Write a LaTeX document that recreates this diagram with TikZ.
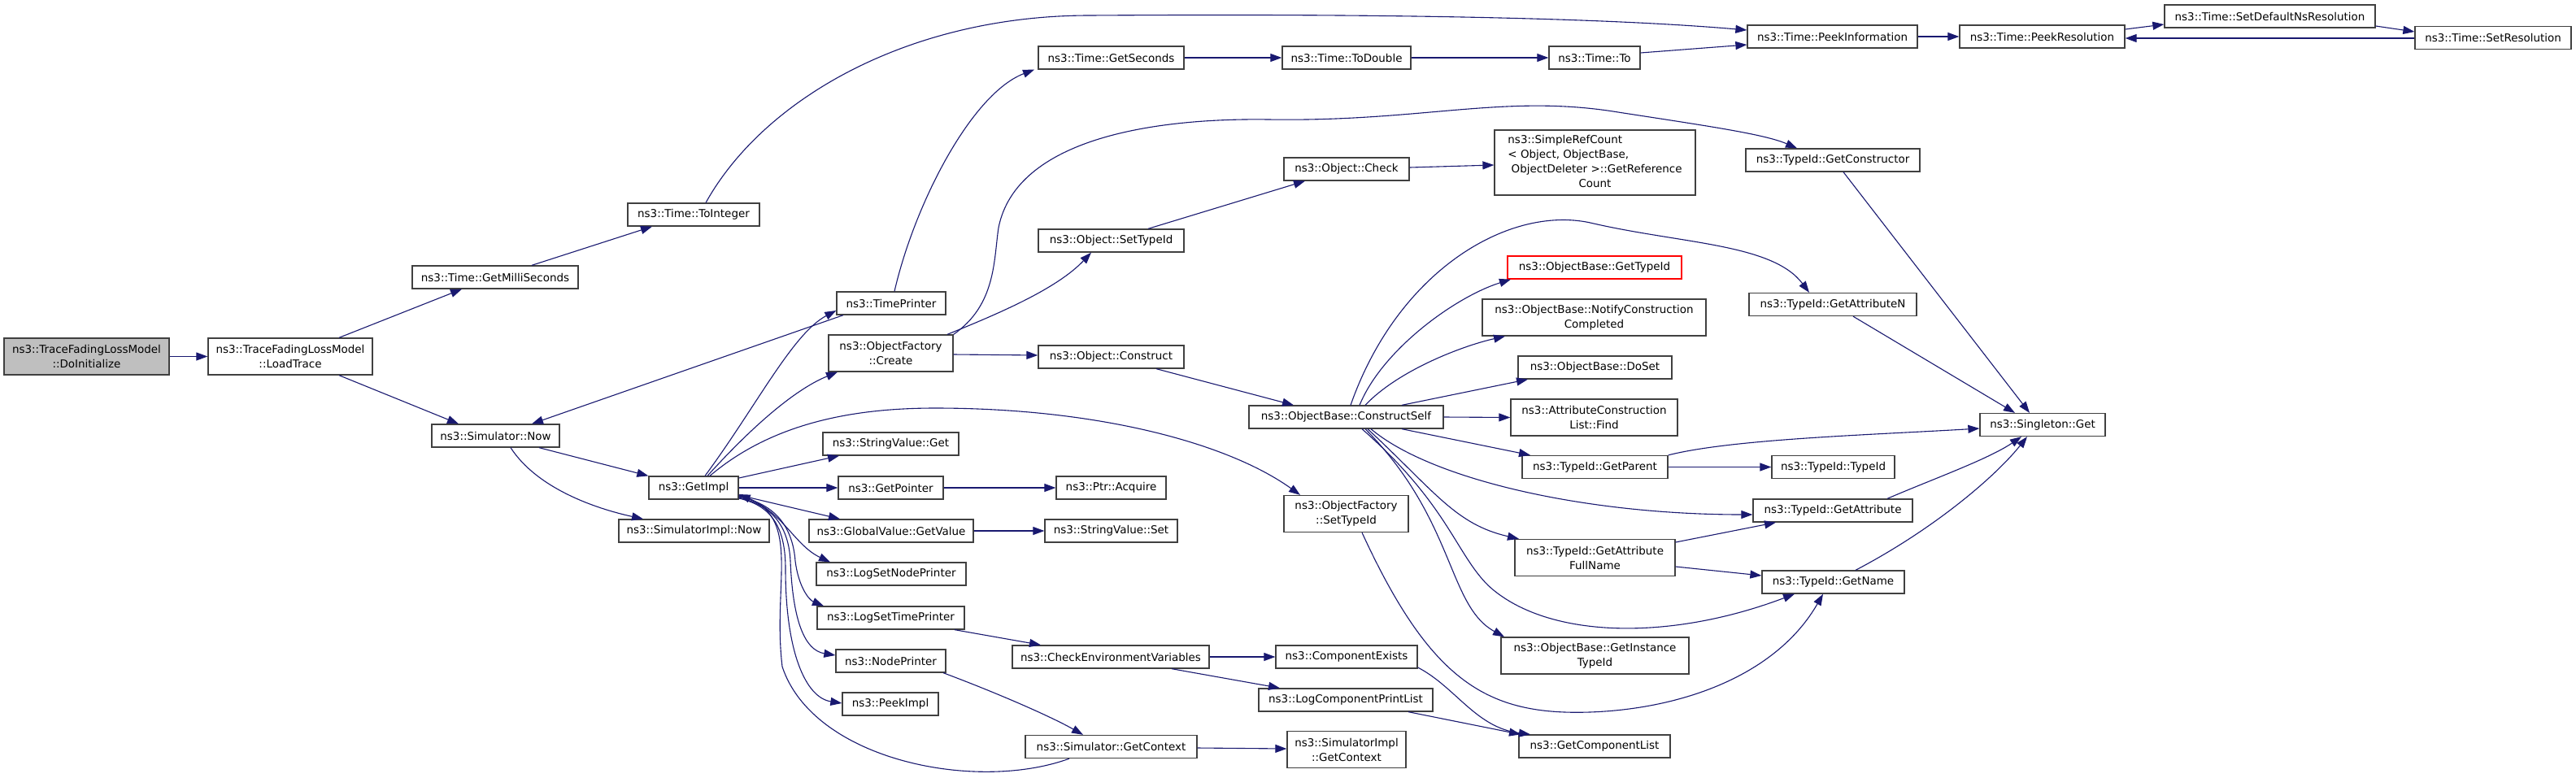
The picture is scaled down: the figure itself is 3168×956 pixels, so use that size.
\documentclass[tikz,border=0pt]{standalone}
\usepackage{fontspec}
\setmainfont{DejaVu Sans}
\usetikzlibrary{arrows.meta}
\definecolor{mblue}{RGB}{25,25,112}
\definecolor{boxline}{RGB}{64,64,64}
\definecolor{rootfill}{RGB}{191,191,191}
\begin{document}
\begin{tikzpicture}[x=1pt,y=-1pt,
  box/.style={draw=boxline, line width=1.3pt, inner sep=0pt, align=center, text=black,
    font=\fontsize{13.45}{18}\selectfont},
  cg/.style={draw=mblue, line width=1.1pt, -{Triangle[length=14pt,width=10pt]}, fill=none},
]
\path[use as bounding box, fill=white] (0,0) rectangle (3168,956);
% ---------- nodes ----------
\node[box, fill=rootfill, minimum width=203pt, minimum height=45pt] (doinit) at (106.5,438.5) {ns3::TraceFadingLossModel\\::DoInitialize};
\node[box, minimum width=202pt, minimum height=45pt] (load) at (357,438.5) {ns3::TraceFadingLossModel\\::LoadTrace};
\node[box, minimum width=204pt, minimum height=28pt] (milli) at (609,341) {ns3::Time::GetMilliSeconds};
\node[box, minimum width=162pt, minimum height=28pt] (toint) at (853,264) {ns3::Time::ToInteger};
\node[box, minimum width=157pt, minimum height=28pt] (simnow) at (609.5,536) {ns3::Simulator::Now};
\node[box, minimum width=110pt, minimum height=28pt] (getimpl) at (853,600) {ns3::GetImpl};
\node[box, minimum width=185pt, minimum height=28pt] (simimplnow) at (853.5,653) {ns3::SimulatorImpl::Now};
\node[box, minimum width=179pt, minimum height=28pt] (getsec) at (1366.5,71) {ns3::Time::GetSeconds};
\node[box, minimum width=158pt, minimum height=28pt] (todouble) at (1656,71) {ns3::Time::ToDouble};
\node[box, minimum width=112pt, minimum height=28pt] (timeto) at (1961,71) {ns3::Time::To};
\node[box, minimum width=209pt, minimum height=28pt] (peekinfo) at (2253.5,45) {ns3::Time::PeekInformation};
\node[box, minimum width=203pt, minimum height=28pt] (peekres) at (2511.5,45) {ns3::Time::PeekResolution};
\node[box, minimum width=259pt, minimum height=28pt] (setdef) at (2791.5,20) {ns3::Time::SetDefaultNsResolution};
\node[box, minimum width=192pt, minimum height=28pt] (setres) at (3066,46.5) {ns3::Time::SetResolution};
\node[box, minimum width=154pt, minimum height=28pt] (check) at (1656,208) {ns3::Object::Check};
\node[box, minimum width=247pt, minimum height=80pt] (simpleref) at (1961.5,200) {\begin{tabular}{@{}l@{}}ns3::SimpleRefCount\\< Object, ObjectBase,\\\ ObjectDeleter >::GetReference\\\multicolumn{1}{@{}c@{}}{Count}\end{tabular}};
\node[box, minimum width=214pt, minimum height=28pt] (getctor) at (2254,197) {ns3::TypeId::GetConstructor};
\node[box, minimum width=179pt, minimum height=28pt] (objsettid) at (1366.5,296) {ns3::Object::SetTypeId};
\node[box, minimum width=134pt, minimum height=28pt] (timeprinter) at (1096,373) {ns3::TimePrinter};
\node[box, minimum width=153pt, minimum height=45pt] (create) at (1095.5,434.5) {ns3::ObjectFactory\\::Create};
\node[box, minimum width=179pt, minimum height=28pt] (construct) at (1366.5,439) {ns3::Object::Construct};
\node[box, draw=red, minimum width=214pt, minimum height=28pt] (gettypeid) at (1961,329) {ns3::ObjectBase::GetTypeId};
\node[box, minimum width=275pt, minimum height=45pt] (notify) at (1960.5,390.5) {ns3::ObjectBase::NotifyConstruction\\Completed};
\node[box, minimum width=189pt, minimum height=28pt] (doset) at (1961.5,452) {ns3::ObjectBase::DoSet};
\node[box, minimum width=206pt, minimum height=28pt] (getattrn) at (2254,374.5) {ns3::TypeId::GetAttributeN};
\node[box, minimum width=239pt, minimum height=28pt] (cself) at (1655.5,513) {ns3::ObjectBase::ConstructSelf};
\node[box, minimum width=205pt, minimum height=45pt] (attrfind) at (1960.5,513.5) {ns3::AttributeConstruction\\List::Find};
\node[box, minimum width=154pt, minimum height=28pt] (singleton) at (2512,522.5) {ns3::Singleton::Get};
\node[box, minimum width=179pt, minimum height=28pt] (getparent) at (1961.5,574.5) {ns3::TypeId::GetParent};
\node[box, minimum width=151pt, minimum height=28pt] (tidtid) at (2254.5,574.5) {ns3::TypeId::TypeId};
\node[box, minimum width=196pt, minimum height=28pt] (getattr) at (2254,628) {ns3::TypeId::GetAttribute};
\node[box, minimum width=197pt, minimum height=45pt] (getattrfull) at (1961.5,686) {ns3::TypeId::GetAttribute\\FullName};
\node[box, minimum width=175pt, minimum height=28pt] (getname) at (2254.5,716) {ns3::TypeId::GetName};
\node[box, minimum width=153pt, minimum height=45pt] (ofsettid) at (1655.5,632) {ns3::ObjectFactory\\::SetTypeId};
\node[box, minimum width=231pt, minimum height=45pt] (getinst) at (1961.5,806.5) {ns3::ObjectBase::GetInstance\\TypeId};
\node[box, minimum width=186pt, minimum height=28pt] (getcomplist) at (1961,918) {ns3::GetComponentList};
\node[box, minimum width=167pt, minimum height=28pt] (svget) at (1095.5,546) {ns3::StringValue::Get};
\node[box, minimum width=129pt, minimum height=28pt] (getptr) at (1095.5,600) {ns3::GetPointer};
\node[box, minimum width=135pt, minimum height=28pt] (ptracq) at (1366.5,600) {ns3::Ptr::Acquire};
\node[box, minimum width=202pt, minimum height=28pt] (gvget) at (1096,653) {ns3::GlobalValue::GetValue};
\node[box, minimum width=163pt, minimum height=28pt] (svset) at (1366.5,653) {ns3::StringValue::Set};
\node[box, minimum width=184pt, minimum height=28pt] (lognode) at (1096,706) {ns3::LogSetNodePrinter};
\node[box, minimum width=181pt, minimum height=28pt] (logtime) at (1095.5,760) {ns3::LogSetTimePrinter};
\node[box, minimum width=135pt, minimum height=28pt] (nodeprinter) at (1095.5,813) {ns3::NodePrinter};
\node[box, minimum width=118pt, minimum height=28pt] (peekimpl) at (1095,866) {ns3::PeekImpl};
\node[box, minimum width=242pt, minimum height=28pt] (checkenv) at (1366,808) {ns3::CheckEnvironmentVariables};
\node[box, minimum width=174pt, minimum height=28pt] (compexists) at (1656,808) {ns3::ComponentExists};
\node[box, minimum width=214pt, minimum height=28pt] (logcomp) at (1655,861) {ns3::LogComponentPrintList};
\node[box, minimum width=211pt, minimum height=28pt] (simgetctx) at (1366.5,918.5) {ns3::Simulator::GetContext};
\node[box, minimum width=146pt, minimum height=45pt] (simimplgetctx) at (1656,922) {ns3::SimulatorImpl\\::GetContext};
% ---------- edges ----------
\draw[cg] (doinit.east) -- (load.west);
\draw[cg] (417,0 |- load.north) -- (568,0 |- milli.south);
\draw[cg] (417,0 |- load.south) -- (564,0 |- simnow.north);
\draw[cg] (654,0 |- milli.north) -- (802,0 |- toint.south);
\draw[cg] (868,0 |- toint.north) .. controls (940,120) and (1120,19) .. (1340,19) .. controls (1650,17) and (1950,20) .. (peekinfo.west |- 0,37);
\draw[cg] (663,0 |- simnow.south) -- (getimpl.north west);
\draw[cg] (628,0 |- simnow.south) .. controls (660,600) and (730,625) .. (791,0 |- simimplnow.north);
\draw[cg] (867,0 |- getimpl.north) .. controls (930,500) and (975,410) .. (timeprinter.west |- 0,382);
\draw[cg] (870,0 |- getimpl.north) .. controls (920,530) and (975,480) .. (1030,0 |- create.south);
\draw[cg] (873,0 |- getimpl.north) .. controls (950,520) and (1050,502) .. (1150,502) .. controls (1350,502) and (1510,545) .. (1599,0 |- ofsettid.north);
\draw[cg] (getimpl.east |- 0,588) -- (1032,0 |- svget.south);
\draw[cg] (getimpl.east) -- (getptr.west);
\draw[cg] (getimpl.east |- 0,609) -- (1033,0 |- gvget.north);
\draw[cg] (getimpl.east |- 0,610) .. controls (960,622) and (975,670) .. (1021,0 |- lognode.north);
\draw[cg] (getimpl.east |- 0,611) .. controls (955,620) and (975,650) .. (978,690) .. controls (982,722) and (995,738) .. (1013,0 |- logtime.north);
\draw[cg] (getimpl.east |- 0,612) .. controls (952,622) and (970,650) .. (972,690) .. controls (975,765) and (990,800) .. (nodeprinter.west |- 0,806);
\draw[cg] (getimpl.east |- 0,613) .. controls (950,622) and (966,650) .. (966,700) .. controls (966,800) and (990,858) .. (peekimpl.west |- 0,865);
\draw[cg] (1315,0 |- simgetctx.south) .. controls (1200,975) and (1000,935) .. (962,820) .. controls (950,720) and (985,640) .. (getimpl.east |- 0,608);
\draw[cg] (1037,0 |- timeprinter.south) -- (654,0 |- simnow.north);
\draw[cg] (1100,0 |- timeprinter.north) .. controls (1125,250) and (1195,115) .. (1272,0 |- getsec.south);
\draw[cg] (getsec.east) -- (todouble.west);
\draw[cg] (todouble.east) -- (timeto.west);
\draw[cg] (timeto.east |- 0,65) -- (peekinfo.west |- 0,55);
\draw[cg] (peekinfo.east) -- (peekres.west);
\draw[cg] (peekres.east |- 0,36) -- (setdef.west |- 0,30);
\draw[cg] (setdef.east |- 0,32) -- (setres.west |- 0,39);
\draw[cg] (setres.west |- 0,47) -- (peekres.east |- 0,47);
\draw[cg] (1165,0 |- create.north) .. controls (1230,385) and (1300,355) .. (1342,0 |- objsettid.south);
\draw[cg] (create.east |- 0,436) -- (construct.west |- 0,437);
\draw[cg] (create.north east) .. controls (1225,375) and (1222,320) .. (1228,280) .. controls (1250,170) and (1420,145) .. (1560,147) .. controls (1750,150) and (1850,115) .. (1990,138) .. controls (2100,155) and (2170,165) .. (2210,0 |- getctor.north);
\draw[cg] (1412,0 |- objsettid.north) -- (1605,0 |- check.south);
\draw[cg] (check.east |- 0,206) -- (simpleref.west |- 0,203);
\draw[cg] (1422,0 |- construct.south) -- (1591,0 |- cself.north);
\draw[cg] (1672,0 |- cself.north) .. controls (1700,430) and (1790,365) .. (1858,0 |- gettypeid.south);
\draw[cg] (1679,0 |- cself.north) .. controls (1720,455) and (1800,425) .. (1851,0 |- notify.south);
\draw[cg] (1724,0 |- cself.north) -- (1879,0 |- doset.south);
\draw[cg] (cself.east) -- (attrfind.west);
\draw[cg] (1724,0 |- cself.south) -- (1882,0 |- getparent.north);
\draw[cg] (1686,0 |- cself.south) .. controls (1760,590) and (1950,633) .. (getattr.west |- 0,633);
\draw[cg] (1682,0 |- cself.south) .. controls (1765,605) and (1790,645) .. (1868,0 |- getattrfull.north);
\draw[cg] (1679,0 |- cself.south) .. controls (1790,640) and (1780,745) .. (1850,0 |- getinst.north);
\draw[cg] (1675,0 |- cself.south) .. controls (1780,620) and (1790,680) .. (1830,720) .. controls (1900,785) and (2050,790) .. (2207,0 |- getname.south);
\draw[cg] (1661,0 |- cself.north) .. controls (1720,330) and (1860,250) .. (1960,275) .. controls (2070,300) and (2180,300) .. (2225,0 |- getattrn.north);
\draw[cg] (2267,0 |- getctor.south) -- (2496,0 |- singleton.north);
\draw[cg] (2279,0 |- getattrn.south) -- (2478,0 |- singleton.north);
\draw[cg] (getparent.north east) .. controls (2130,540) and (2300,535) .. (singleton.west |- 0,527);
\draw[cg] (2321,0 |- getattr.north) .. controls (2375,590) and (2445,565) .. (2486,0 |- singleton.south);
\draw[cg] (2282,0 |- getname.north) .. controls (2380,650) and (2455,585) .. (2493,0 |- singleton.south);
\draw[cg] (getparent.east) -- (tidtid.west);
\draw[cg] (getattrfull.east |- 0,667) -- (2184,0 |- getattr.south);
\draw[cg] (getattrfull.east |- 0,697) -- (getname.west |- 0,708);
\draw[cg] (1675,0 |- ofsettid.south) .. controls (1760,840) and (1830,880) .. (1955,876) .. controls (2070,872) and (2185,830) .. (2242,0 |- getname.south);
\draw[cg] (1174,0 |- logtime.south) -- (1280,0 |- checkenv.north);
\draw[cg] (checkenv.east) -- (compexists.west);
\draw[cg] (1441,0 |- checkenv.south) -- (1574,0 |- logcomp.north);
\draw[cg] (compexists.east |- 0,821) .. controls (1790,845) and (1815,895) .. (1882,0 |- getcomplist.north);
\draw[cg] (1732,0 |- logcomp.south) -- (1870,0 |- getcomplist.north);
\draw[cg] (1160,0 |- nodeprinter.south) .. controls (1220,850) and (1290,880) .. (1332,0 |- simgetctx.north);
\draw[cg] (simgetctx.east |- 0,920) -- (simimplgetctx.west |- 0,921);
\draw[cg] (getptr.east) -- (ptracq.west);
\draw[cg] (gvget.east) -- (svset.west);
\end{tikzpicture}
\end{document}
